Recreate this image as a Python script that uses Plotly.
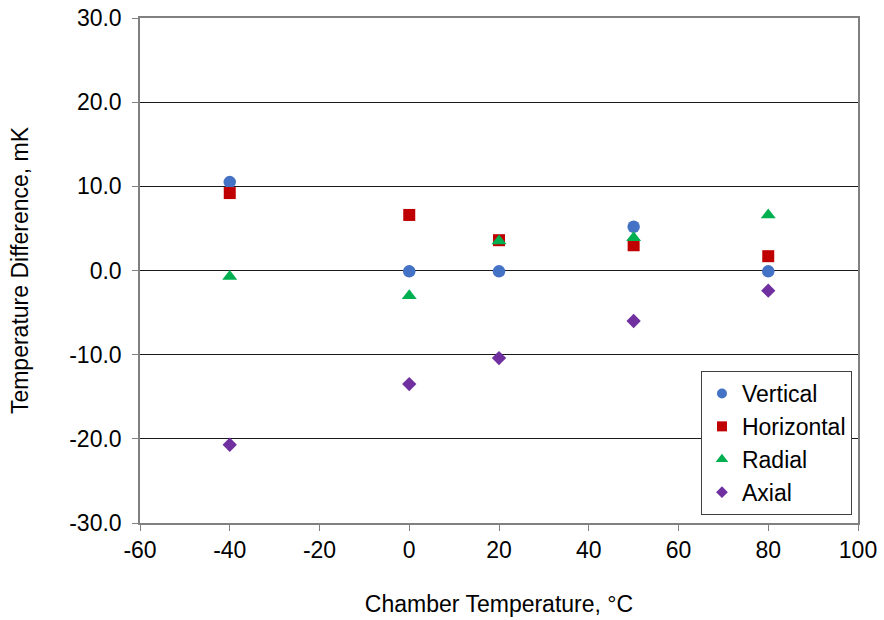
import plotly.graph_objects as go

x_temps = [-40, 0, 20, 50, 80]
vertical = [10.5, -0.1, -0.1, 5.2, -0.1]
horizontal = [9.2, 6.6, 3.6, 3.0, 1.7]
radial = [-0.7, -3.0, 3.5, 3.9, 6.6]
axial = [-20.7, -13.5, -10.4, -6.0, -2.4]

x_tickvals = [-60, -40, -20, 0, 20, 40, 60, 80, 100]
x_ticktext = ["-60", "-40", "-20", "0", "20", "40", "60", "80", "100"]
y_tickvals = [-30, -20, -10, 0, 10, 20, 30]
y_ticktext = ["-30.0", "-20.0", "-10.0", "0.0", "10.0", "20.0", "30.0"]

series = [
    ("Vertical", vertical, "circle", "#4472C4", 12.5, 10),
    ("Horizontal", horizontal, "square", "#C00000", 12, 10),
    ("Radial", radial, "triangle-up", "#00B050", 13, 11),
    ("Axial", axial, "diamond", "#7030A0", 11, 9),
]

fig = go.Figure()
for name, vals, sym, col, sz, lsz in series:
    fig.add_trace(go.Scatter(x=x_temps, y=vals, mode="markers", name=name, legendgroup=name,
                             showlegend=False,
                             marker=dict(symbol=sym, color=col, size=sz, line=dict(width=0))))
    fig.add_trace(go.Scatter(x=[None], y=[None], mode="markers", name=name, legendgroup=name,
                             showlegend=True,
                             marker=dict(symbol=sym, color=col, size=lsz, line=dict(width=0))))

font = "Liberation Sans, Arial, sans-serif"
fig.update_layout(
    width=884, height=620,
    margin=dict(l=140, r=26, t=18, b=97, autoexpand=False),
    paper_bgcolor="white", plot_bgcolor="white",
    font=dict(family=font, size=23, color="black"),
    showlegend=True,
    legend=dict(x=0.9916, xanchor="right", y=0.0158, yanchor="bottom",
                bordercolor="#404040", borderwidth=1, bgcolor="white",
                font=dict(size=23, family=font), itemwidth=30,
                traceorder="grouped", tracegroupgap=0),
    xaxis=dict(range=[-60, 100], tickvals=x_tickvals, ticktext=x_ticktext,
               showgrid=False, zeroline=False, automargin=False,
               showline=True, linecolor="#808080", linewidth=1.5, mirror=True,
               ticks="outside", ticklen=6, tickcolor="#808080", ticklabeloverflow="allow",
               title=dict(text="Chamber Temperature, °C", font=dict(size=23), standoff=34),
               tickfont=dict(size=23)),
    yaxis=dict(range=[-30, 30], tickvals=y_tickvals, ticktext=y_ticktext,
               showgrid=True, gridcolor="#1a1a1a", gridwidth=1, zeroline=False, automargin=False,
               showline=True, linecolor="#808080", linewidth=1.5, mirror=True,
               ticks="outside", ticklen=6, tickcolor="#808080", ticklabelstandoff=6,
               ticklabeloverflow="allow",
               title=dict(text="Temperature Difference, mK", font=dict(size=23), standoff=34),
               tickfont=dict(size=23)),
)

fig.write_html("out.html", config={"displayModeBar": False},
               post_script="document.body.style.margin='0';")
